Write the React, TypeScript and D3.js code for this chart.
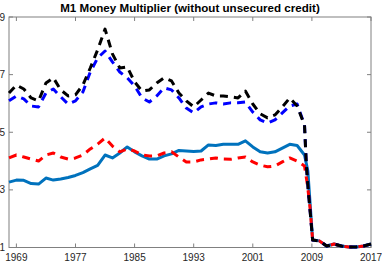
import React, { useEffect, useRef } from "react";
import * as d3 from "d3";

// years (a few fractional points describe the 2008 collapse)
const years = [
  1968, 1969, 1970, 1971, 1972, 1973, 1974, 1975, 1976, 1977, 1978, 1979,
  1980, 1981, 1982, 1983, 1984, 1985, 1986, 1987, 1988, 1989, 1990, 1991,
  1992, 1993, 1994, 1995, 1996, 1997, 1998, 1999, 2000, 2001, 2002, 2003,
  2004, 2005, 2006, 2007, 2008,
];
const tailYears = [2010, 2011, 2012, 2013, 2014, 2015, 2016, 2017];
const tailValues = [1.23, 1.05, 1.12, 1.05, 1.02, 1.02, 1.05, 1.12];

const solidBlue = [
  3.27, 3.34, 3.33, 3.22, 3.2, 3.41, 3.34, 3.38, 3.43, 3.5, 3.6, 3.73, 3.85,
  4.21, 4.11, 4.28, 4.49, 4.32, 4.18, 4.07, 4.07, 4.18, 4.25, 4.37, 4.35,
  4.33, 4.35, 4.56, 4.54, 4.58, 4.58, 4.58, 4.7, 4.49, 4.32, 4.28, 4.32,
  4.45, 4.58, 4.54, 4.21,
];
const solidBlueDrop = [
  [2008.45, 3.66],
  [2009.1, 1.26],
];

const redDashed = [
  4.11, 4.21, 4.14, 4.07, 4.0, 4.21, 4.28, 4.14, 4.07, 4.11, 4.21, 4.42, 4.59,
  4.8, 4.52, 4.32, 4.42, 4.35, 4.21, 4.18, 4.18, 4.28, 4.32, 4.14, 3.97, 3.97,
  4.04, 4.07, 4.11, 4.07, 4.06, 4.11, 4.14, 3.97, 3.86, 3.8, 3.83, 3.97,
  4.11, 4.0, 3.83,
];
const redDrop = [
  [2008.4, 3.17],
  [2008.75, 2.37],
  [2009.1, 1.26],
];

const blueDashed = [
  6.09, 6.26, 6.16, 5.91, 5.88, 6.36, 6.5, 6.23, 5.98, 6.09, 6.4, 7.09, 7.58,
  7.82, 7.44, 7.09, 6.89, 6.61, 6.19, 6.05, 6.26, 6.54, 6.47, 6.19, 5.84,
  5.67, 5.88, 5.98, 6.02, 5.98, 6.02, 6.02, 6.05, 5.7, 5.43, 5.32, 5.43,
  5.67, 5.91, 5.98, 5.25,
];
const blackDashed = [
  6.36, 6.64, 6.5, 6.19, 6.09, 6.71, 6.89, 6.47, 6.26, 6.3, 6.64, 7.23, 7.86,
  8.58, 7.72, 7.23, 7.27, 6.75, 6.43, 6.47, 6.71, 6.89, 6.78, 6.36, 6.09,
  5.88, 6.12, 6.36, 6.26, 6.26, 6.23, 6.19, 6.43, 5.98, 5.64, 5.5, 5.6, 5.88,
  6.19, 5.91, 5.25,
];
const dashedDrop = [
  [2008.25, 3.86],
  [2008.5, 3.0],
  [2008.75, 2.3],
  [2009.1, 1.26],
];

const xTicks = [1969, 1977, 1985, 1993, 2001, 2009, 2017];
const yTicks = [1, 3, 5, 7, 9];

const build = (vals: number[], drop: number[][]) => [
  ...years.map((y, i) => [y, vals[i]]),
  ...drop,
  ...tailYears.map((y, i) => [y, tailValues[i]]),
];

const App = () => {
  const svgRef = useRef<SVGSVGElement>(null);

  useEffect(() => {
    const width = 382;
    const height = 262;
    const margin = { top: 17, right: 11, bottom: 14.5, left: 9 };

    const svg = d3.select(svgRef.current);
    svg.selectAll("*").remove();
    svg.attr("width", width).attr("height", height);

    const x = d3
      .scaleLinear()
      .domain([1968, 2017])
      .range([margin.left, width - margin.right]);
    const y = d3
      .scaleLinear()
      .domain([1, 9])
      .range([height - margin.bottom, margin.top]);

    const axisColor = "#808080";
    const textColor = "#262626";
    const font = "Liberation Sans, Arial, sans-serif";

    // box
    svg
      .append("rect")
      .attr("x", x(1968))
      .attr("y", y(9))
      .attr("width", x(2017) - x(1968))
      .attr("height", y(1) - y(9))
      .attr("fill", "none")
      .attr("stroke", axisColor)
      .attr("stroke-width", 1);

    // ticks (inside, all four sides)
    const tickLen = 4;
    const g = svg.append("g").attr("stroke", axisColor).attr("stroke-width", 1);
    xTicks.forEach((t) => {
      g.append("line")
        .attr("x1", x(t)).attr("x2", x(t))
        .attr("y1", y(1)).attr("y2", y(1) - tickLen);
      g.append("line")
        .attr("x1", x(t)).attr("x2", x(t))
        .attr("y1", y(9)).attr("y2", y(9) + tickLen);
    });
    yTicks.forEach((t) => {
      g.append("line")
        .attr("x1", x(1968)).attr("x2", x(1968) + tickLen)
        .attr("y1", y(t)).attr("y2", y(t));
      g.append("line")
        .attr("x1", x(2017)).attr("x2", x(2017) - tickLen)
        .attr("y1", y(t)).attr("y2", y(t));
    });

    // tick labels
    svg
      .selectAll(".xl")
      .data(xTicks)
      .join("text")
      .attr("x", (d) => x(d))
      .attr("y", height - 1.5)
      .attr("text-anchor", "middle")
      .attr("font-family", font)
      .attr("font-size", 10)
      .attr("fill", textColor)
      .text((d) => d);

    svg
      .selectAll(".yl")
      .data(yTicks)
      .join("text")
      .attr("x", 5)
      .attr("y", (d) => y(d) + 3.5)
      .attr("text-anchor", "end")
      .attr("font-family", font)
      .attr("font-size", 10)
      .attr("fill", textColor)
      .text((d) => d);

    // title
    svg
      .append("text")
      .attr("x", 190)
      .attr("y", 12)
      .attr("text-anchor", "middle")
      .attr("font-family", font)
      .attr("font-size", 11.6)
      .attr("font-weight", "bold")
      .attr("fill", "#000")
      .text("M1 Money Multiplier (without unsecured credit)");

    const line = d3
      .line<number[]>()
      .x((d) => x(d[0]))
      .y((d) => y(d[1]));

    const series = [
      { data: build(solidBlue, solidBlueDrop), color: "#0072BD", dash: null },
      { data: build(redDashed, redDrop), color: "#FF0000", dash: "8,6" },
      { data: build(blueDashed, dashedDrop), color: "#0000FF", dash: "8,6" },
      { data: build(blackDashed, dashedDrop), color: "#000000", dash: "8,6" },
    ];

    series.forEach((s) => {
      svg
        .append("path")
        .datum(s.data)
        .attr("d", line)
        .attr("fill", "none")
        .attr("stroke", s.color)
        .attr("stroke-width", 3)
        .attr("stroke-linejoin", "round")
        .attr("stroke-dasharray", s.dash);
    });
  }, []);

  return (
    <div style={{ position: "absolute", left: 0, top: 0 }}>
      <svg ref={svgRef}></svg>
    </div>
  );
};

export default App;
